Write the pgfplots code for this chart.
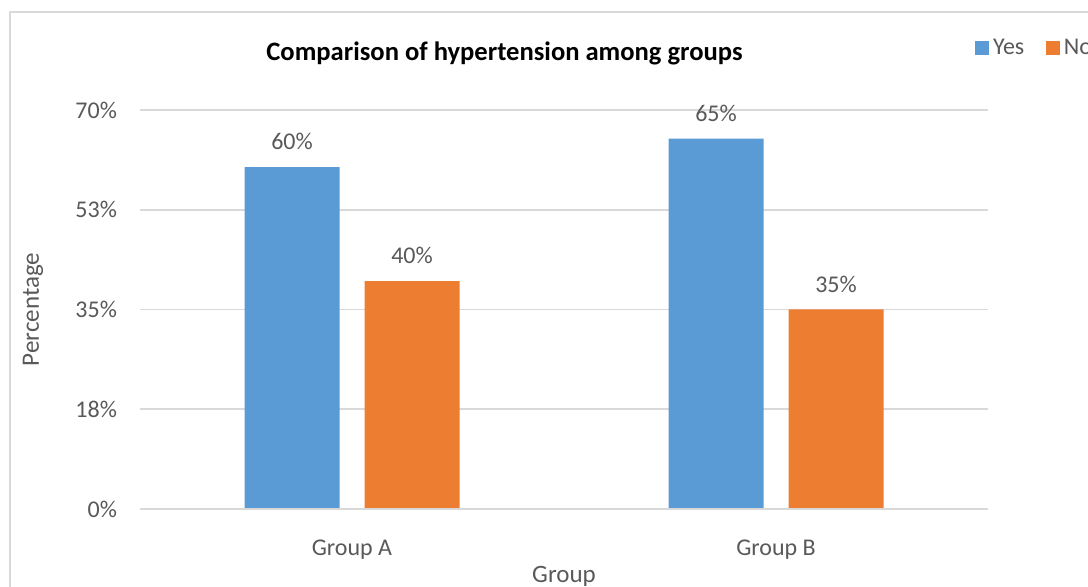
\documentclass[border=0pt]{standalone}
\usepackage{pgfplots}
\pgfplotsset{compat=1.18}
\usepackage{fontspec}
\setmainfont{Carlito}
\definecolor{yesblue}{HTML}{5B9BD5}
\definecolor{noorange}{HTML}{ED7D31}
\definecolor{gridgray}{HTML}{D9D9D9}
\definecolor{labelgray}{HTML}{595959}

\begin{document}
\begin{tikzpicture}[x=0.5pt,y=0.5pt]
\useasboundingbox (0,0) rectangle (1088,587);
\clip (0,0) rectangle (1088,587);
% chart frame
\draw[gridgray, line width=1.2pt] (10,-10) -- (10,575) -- (1100,575);
% title
\node[font=\bfseries\fontsize{13.3}{16}\selectfont, text=black] at (504.5,534) {Comparison of hypertension among groups};
\begin{axis}[
  at={(70pt,39pt)}, anchor=south west,
  width=424pt, height=199.5pt, scale only axis,
  ymin=0, ymax=70, xmin=-0.5, xmax=1.5,
  ytick={0,17.5,35,52.5,70},
  yticklabels={0\%,18\%,35\%,53\%,70\%},
  xtick={0,1}, xticklabels={Group A, Group B},
  ymajorgrids, grid style={gridgray, line width=0.8pt},
  axis line style={draw=none},
  major tick length=0pt, tick style={draw=none},
  /pgf/number format/assume math mode=true,
  ticklabel style={font=\fontsize{12}{14}\selectfont, text=labelgray},
  yticklabel style={xshift=-8pt},
  xticklabel style={yshift=-12pt},
  ylabel={Percentage}, xlabel={Group},
  label style={font=\fontsize{12.5}{15}\selectfont, text=labelgray},
  ylabel style={at={(axis description cs:-0.1262,0.5)}, anchor=center},
  xlabel style={at={(axis description cs:0.5,-0.169)}, anchor=center},
  ybar, bar width=47.5pt,
  nodes near coords={\pgfmathprintnumber{\pgfplotspointmeta}\%},
  every node near coord/.append style={font=\fontsize{12}{14}\selectfont, text=labelgray, yshift=5pt},
  legend columns=-1,
  legend image code/.code={\fill[#1] (0pt,-3.4pt) rectangle (6.8pt,3.4pt);},
  legend style={at={(axis description cs:0.9847,1.155)}, anchor=west, draw=none, fill=none,
    font=\fontsize{12}{14}\selectfont, text=labelgray, inner sep=0pt,
    /tikz/every even column/.append style={column sep=9pt}},
]
\addplot[fill=yesblue, draw=none, bar shift=-30pt] coordinates {(0,60) (1,65)};
\addplot[fill=noorange, draw=none, bar shift=30pt] coordinates {(0,40) (1,35)};
\draw[gridgray, line width=1.2pt] (axis cs:-0.5,0) -- (axis cs:1.5,0);
\legend{Yes, No}
\end{axis}
\end{tikzpicture}
\end{document}
